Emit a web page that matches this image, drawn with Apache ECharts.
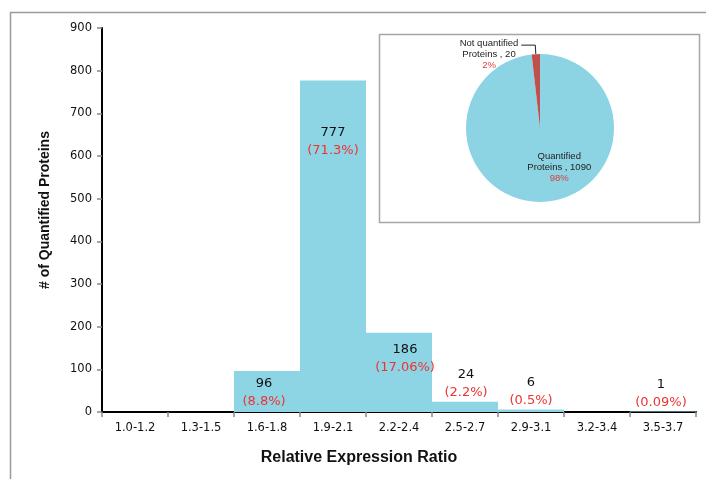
<!DOCTYPE html>
<html>
<head>
<meta charset="utf-8">
<script src="https://cdn.jsdelivr.net/npm/echarts@6/dist/echarts.min.js"></script>
<style>html,body{margin:0;padding:0;background:#fff}#c{width:706px;height:479px}</style>
</head>
<body>
<div id="c"></div>
<script>
// ---- data ----
var categories = ['1.0-1.2','1.3-1.5','1.6-1.8','1.9-2.1','2.2-2.4','2.5-2.7','2.9-3.1','3.2-3.4','3.5-3.7'];
var counts = [0, 0, 96, 777, 186, 24, 6, 0, 1];
var percentLabels = ['', '', '(8.8%)', '(71.3%)', '(17.06%)', '(2.2%)', '(0.5%)', '', '(0.09%)'];
var yTicks = [0, 100, 200, 300, 400, 500, 600, 700, 800, 900];
var pieNames = ['Quantified Proteins', 'Not quantified Proteins'];
var pieValues = [1090, 20];

// ---- label placement (style, not data) ----
var labelPlace = [
  null, null,
  {position:'insideTop', distance:4, dx:-3},
  {position:'insideTop', distance:43, dx:0},
  {position:'insideTop', distance:8, dx:6},
  {position:'top', distance:0, dx:1},
  {position:'top', distance:0, dx:0},
  null,
  {position:'top', distance:0, dx:-2}
];

var barColor = '#8DD4E5';
var barData = counts.map(function(v, i){
  var lp = labelPlace[i];
  var item = {value: v};
  if (lp && v > 0) {
    item.label = {show:true, position: lp.position, distance: lp.distance, offset:[lp.dx, 0]};
  } else {
    item.label = {show:false};
  }
  return item;
});

var chart = echarts.init(document.getElementById('c'));
chart.setOption({
  animation: false,
  backgroundColor: '#fff',
  graphic: [
    {type:'rect', shape:{x:10.5, y:12.5, width:720, height:520}, style:{fill:'none', stroke:'#9a9a9a', lineWidth:1.5}, z:0},
    {type:'rect', shape:{x:379.5, y:34.5, width:320, height:188}, style:{fill:'#fff', stroke:'#a6a6a6', lineWidth:1.5}, z:0}
  ],
  grid: {left:102, right:10, top:28, bottom:67, containLabel:false},
  xAxis: {
    type:'category',
    data: categories,
    boundaryGap: true,
    name: 'Relative Expression Ratio',
    nameLocation: 'middle',
    nameGap: 38,
    nameTextStyle: {fontFamily:'Liberation Sans', fontWeight:'bold', fontSize:16, color:'#111', padding:[0, 80, 0, 0]},
    axisLine: {lineStyle:{color:'#000', width:2}},
    axisTick: {show:true, length:5, lineStyle:{color:'#888', width:1.5}},
    axisLabel: {fontFamily:'DejaVu Sans', fontSize:11.5, color:'#111', margin:10}
  },
  yAxis: {
    type:'value',
    min: 0, max: 900, interval: 100,
    name: '# of Quantified Proteins',
    nameLocation: 'middle',
    nameGap: 50,
    nameRotate: 90,
    nameTextStyle: {fontFamily:'Liberation Sans', fontWeight:'bold', fontSize:14, color:'#111', padding:[0, 0, 0, 20]},
    axisLine: {show:true, lineStyle:{color:'#000', width:2}},
    axisTick: {show:true, length:5, lineStyle:{color:'#888', width:1.5}},
    splitLine: {show:false},
    axisLabel: {fontFamily:'DejaVu Sans', fontSize:11.5, color:'#111', margin:10,
      formatter: function(v){ return yTicks.indexOf(v) >= 0 ? String(v) : ''; }}
  },
  series: [
    {
      type:'bar',
      data: barData,
      barCategoryGap: '0%',
      itemStyle: {color: barColor},
      z: 2,
      label: {
        show: true,
        formatter: function(p){
          return '{v|' + counts[p.dataIndex] + '}\n{p|' + percentLabels[p.dataIndex] + '}';
        },
        rich: {
          v: {fontFamily:'DejaVu Sans', fontSize:13, color:'#111', lineHeight:18, align:'center'},
          p: {fontFamily:'DejaVu Sans', fontSize:13, color:'#ee3333', lineHeight:18, align:'center'}
        }
      }
    },
    {
      type:'pie',
      center: [540, 128],
      radius: 74,
      startAngle: 90,
      clockwise: true,
      avoidLabelOverlap: false,
      z: 3,
      data: pieNames.map(function(n, i){
        return {
          name: n, value: pieValues[i],
          itemStyle: {color: i === 0 ? '#8CD3E4' : '#C0504D'},
          label: i === 0 ? {position:'inside'} : {position:'outside'},
          labelLine: i === 0 ? {show:false} : {show:true, length:9, length2:14, lineStyle:{color:'#222', width:1}}
        };
      }),
      label: {
        show: true,
        formatter: function(p){
          var parts = p.name.split(' Proteins');
          return '{n|' + parts[0] + '}\n{n|Proteins , ' + p.value + '}\n{p|' + Math.round(p.percent) + '%}';
        },
        rich: {
          n: {fontFamily:'Liberation Sans', fontSize:9.5, color:'#222', lineHeight:11, align:'center'},
          p: {fontFamily:'Liberation Sans', fontSize:9.5, color:'#e03c3c', lineHeight:11, align:'center'}
        }
      },
      labelLayout: function(p){
        if (p.dataIndex === 0) return {dx: 17, dy: -1};
        return {dx: 2, dy: 9};
      },
      emphasis: {disabled: true}
    }
  ]
});
</script>
</body>
</html>
